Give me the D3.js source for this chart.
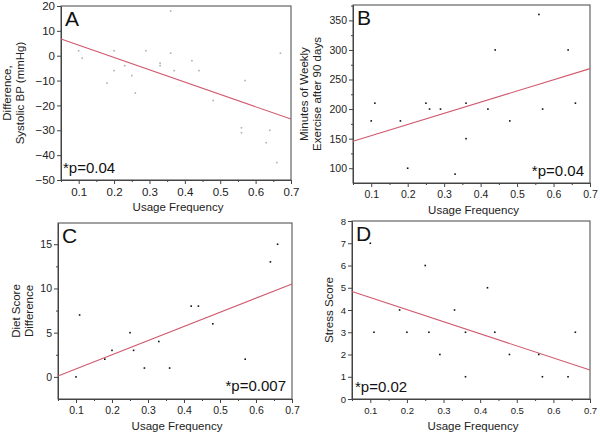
<!DOCTYPE html>
<html>
<head>
<meta charset="utf-8">
<script src="https://cdn.jsdelivr.net/npm/d3@7"></script>
<style>
  body { margin: 0; background: #fff; }
  svg { font-family: "Liberation Sans", Arial, sans-serif; }
  .tick text { fill: #222; }
</style>
</head>
<body>
<svg id="chart" width="600" height="435"></svg>
<script>
// usage frequency / outcome pairs
const usageA = [0.10, 0.11, 0.18, 0.20, 0.20, 0.23, 0.25, 0.26, 0.29, 0.33, 0.33, 0.36, 0.36, 0.37, 0.42, 0.44, 0.48, 0.57, 0.56, 0.56, 0.64, 0.63, 0.66, 0.67]
const bpA    = [2, -1, -11, 2, -6, -4, -8, -15, 2, -3, -4, 18, 1, -6, -2, -6, -18, -10, -29, -31, -30, -35, -43, 1]
const fitA   = [6.7, -25.5]

const usageB = [0.10, 0.11, 0.18, 0.20, 0.25, 0.26, 0.29, 0.33, 0.36, 0.36, 0.42, 0.44, 0.48, 0.56, 0.57, 0.64, 0.66]
const exB    = [180, 210, 180, 100, 210, 200, 200, 90, 210, 150, 200, 300, 180, 360, 200, 300, 210]
const fitB   = [145.6, 268.4]

const usageC = [0.10, 0.11, 0.18, 0.20, 0.25, 0.26, 0.29, 0.33, 0.36, 0.42, 0.44, 0.48, 0.57, 0.64, 0.66]
const dietC  = [0, 7, 2, 3, 5, 3, 1, 4, 1, 8, 8, 6, 2, 13, 15]
const fitC   = [0.1, 10.5]

const usageD = [0.10, 0.11, 0.18, 0.20, 0.25, 0.26, 0.29, 0.33, 0.36, 0.36, 0.42, 0.44, 0.48, 0.56, 0.57, 0.64, 0.66]
const stressD = [7, 3, 4, 3, 6, 3, 2, 4, 3, 1, 5, 3, 2, 2, 1, 1, 3]
const fitD   = [4.83, 1.30]

const xTicks = [0.1, 0.2, 0.3, 0.4, 0.5, 0.6, 0.7]
const xMinor = [0.05, 0.15, 0.25, 0.35, 0.45, 0.55, 0.65]

const svg = d3.select('#chart')

function panel(p) {
  const x = d3.scaleLinear().domain([0.05, 0.7]).range([p.left, p.right])
  const y = d3.scaleLinear().domain(p.yDomain).range([p.bottom, p.top])
  const g = svg.append('g')

  // frame
  g.append('rect')
    .attr('x', p.left).attr('y', p.top)
    .attr('width', p.right - p.left).attr('height', p.bottom - p.top)
    .attr('fill', 'none').attr('stroke', '#444').attr('stroke-width', 1)

  const xa = g.append('g').attr('transform', `translate(0,${p.bottom})`)
    .call(d3.axisBottom(x).tickValues(xTicks).tickSize(4).tickSizeOuter(0).tickPadding(4).tickFormat(d3.format('.1f')))
  xa.selectAll('text').attr('font-size', p.fs)
  g.append('g').attr('transform', `translate(0,${p.bottom})`)
    .call(d3.axisBottom(x).tickValues(xMinor).tickSize(2).tickSizeOuter(0).tickFormat(''))

  const ya = g.append('g').attr('transform', `translate(${p.left},0)`)
    .call(d3.axisLeft(y).tickValues(p.yTicks).tickSize(4).tickSizeOuter(0).tickPadding(2))
  ya.selectAll('text').attr('font-size', p.fs)
  if (p.yMinor) {
    g.append('g').attr('transform', `translate(${p.left},0)`)
      .call(d3.axisLeft(y).tickValues(p.yMinor).tickSize(2).tickSizeOuter(0).tickFormat(''))
  }
  g.selectAll('.domain').attr('stroke', '#444')
  g.selectAll('.tick line').attr('stroke', '#444')

  // regression line
  g.append('line')
    .attr('x1', x(0.05)).attr('y1', y(p.fit[0]))
    .attr('x2', x(0.7)).attr('y2', y(p.fit[1]))
    .attr('stroke', '#d05a6e').attr('stroke-width', 1.1)

  // points
  g.selectAll('rect.pt').data(p.xs).enter()
    .append('rect').attr('class', 'pt')
      .attr('x', (d, i) => x(d) - 0.8)
      .attr('y', (d, i) => y(p.ys[i]) - 0.8)
      .attr('width', 1.6).attr('height', 1.6)
      .attr('fill', p.ptColor)

  g.append('text').attr('x', p.left + 4).attr('y', p.top + 20)
    .attr('font-size', 21).attr('fill', '#111').text(p.letter)

  g.append('text').attr('x', p.pX).attr('y', p.pY).attr('text-anchor', p.pAnchor)
    .attr('font-size', 15).attr('fill', '#111').text(p.pText)

  g.append('text').attr('x', (p.left + p.right) / 2 + 2).attr('y', p.bottom + 31)
    .attr('text-anchor', 'middle').attr('font-size', 11.5).attr('fill', '#222')
    .text('Usage Frequency')

  const yl = g.append('text')
    .attr('transform', `translate(${p.ylX},${(p.top + p.bottom) / 2}) rotate(-90)`)
    .attr('text-anchor', 'middle').attr('font-size', 11.5).attr('fill', '#222')
  p.yLabel.forEach((t, i) => {
    yl.append('tspan').attr('x', 0).attr('dy', i === 0 ? (p.yLabel.length > 1 ? '-0.15em' : '0') : '1.15em').text(t)
  })
}

panel({ letter: 'A', xs: usageA, ys: bpA, fit: fitA, ptColor: '#b0b0b0',
  left: 61, right: 291, top: 6, bottom: 180, yDomain: [-50, 20],
  yTicks: [20, 10, 0, -10, -20, -30, -40, -50], fs: 11.5,
  pText: '*p=0.04', pX: 63, pY: 173, pAnchor: 'start',
  yLabel: ['Difference,', 'Systolic BP (mmHg)'], ylX: 13 })

panel({ letter: 'B', xs: usageB, ys: exB, fit: fitB, ptColor: '#111',
  left: 353, right: 590, top: 5, bottom: 183, yDomain: [75, 376],
  yTicks: [100, 150, 200, 250, 300, 350], yMinor: [125, 175, 225, 275, 325, 375], fs: 10.5,
  pText: '*p=0.04', pX: 584, pY: 176, pAnchor: 'end',
  yLabel: ['Minutes of Weekly', 'Exercise after 90 days'], ylX: 310 })

panel({ letter: 'C', xs: usageC, ys: dietC, fit: fitC, ptColor: '#111',
  left: 58, right: 292, top: 223, bottom: 399, yDomain: [-2.5, 17.4],
  yTicks: [0, 5, 10, 15], yMinor: [2.5, 7.5, 12.5], fs: 10.5,
  pText: '*p=0.007', pX: 286, pY: 391, pAnchor: 'end',
  yLabel: ['Diet Score', 'Difference'], ylX: 22 })

panel({ letter: 'D', xs: usageD, ys: stressD, fit: fitD, ptColor: '#111',
  left: 352, right: 590, top: 221, bottom: 399, yDomain: [0, 8],
  yTicks: [0, 1, 2, 3, 4, 5, 6, 7, 8], fs: 9.5,
  pText: '*p=0.02', pX: 355, pY: 392, pAnchor: 'start',
  yLabel: ['Stress Score'], ylX: 333 })
</script>
</body>
</html>
